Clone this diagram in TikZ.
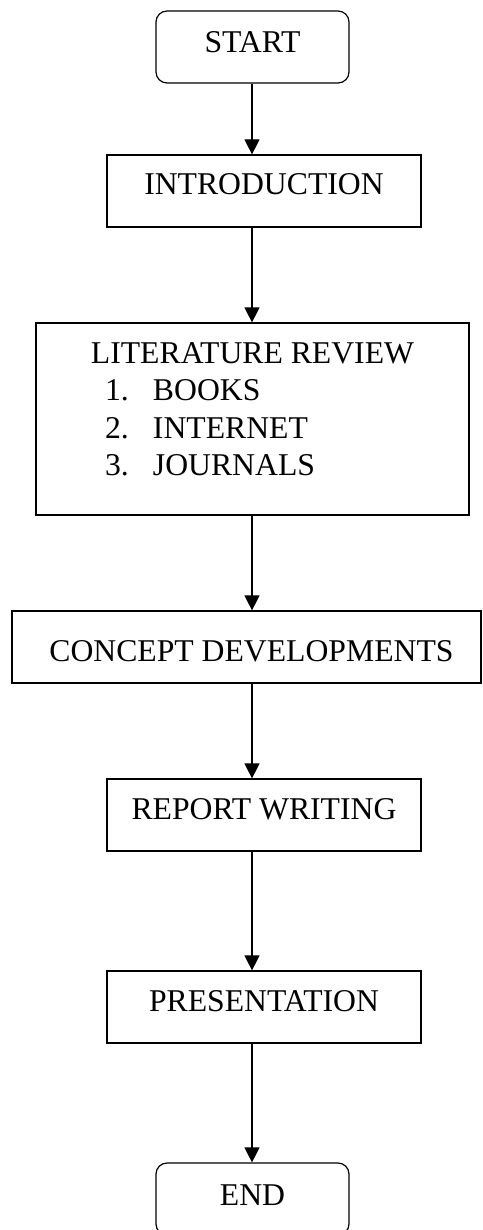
\documentclass[tikz,border=0pt]{standalone}
\usepackage{fontspec}
\setmainfont{Liberation Serif}
\usetikzlibrary{arrows.meta}
\newcommand{\fsz}{\fontsize{31.7}{37.3}\selectfont}
\tikzset{
  base/.style={draw, line width=1.2pt, inner sep=0pt, font=\fsz, rectangle},
  sqbox/.style={base, text height=21pt, text depth=13pt},
  rbox/.style={base, rounded corners=11pt, text height=21pt, text depth=9pt},
  arr/.style={line width=1.2pt, -{Triangle[width=15pt,length=15pt]}}
}
\begin{document}
\begin{tikzpicture}[x=1pt, y=-1pt]
\useasboundingbox (0,0) rectangle (482,1230);
\coordinate (axis) at (252,0);
\node[rbox, minimum width=193pt, minimum height=72pt] (start) at (252.5,47) {START};
\node[sqbox, minimum width=314pt, minimum height=72pt] (intro) at (264,191) {INTRODUCTION};
\node[base, minimum width=433pt, minimum height=192pt] (lit) at (252.5,419) {%
  \begin{minipage}[t]{433pt}\centering LITERATURE REVIEW\par
  \raggedright\leftskip=69pt\relax
  \makebox[48pt][l]{1.}BOOKS\par
  \makebox[48pt][l]{2.}INTERNET\par
  \makebox[48pt][l]{3.}JOURNALS\rule[-20pt]{0pt}{20pt}\end{minipage}};
\node[base, text height=28pt, text depth=0pt, minimum width=469pt, minimum height=72pt] (concept) at (246.5,647) {\hspace*{10pt}CONCEPT DEVELOPMENTS};
\node[sqbox, minimum width=314pt, minimum height=72pt] (report) at (264,815) {REPORT WRITING};
\node[sqbox, minimum width=314pt, minimum height=72pt] (present) at (264,1007) {PRESENTATION};
\node[rbox, minimum width=193pt, minimum height=72pt] (end) at (252.5,1199) {END};
\draw[arr] (axis |- start.south) -- (axis |- intro.north);
\draw[arr] (axis |- intro.south) -- (axis |- lit.north);
\draw[arr] (axis |- lit.south) -- (axis |- concept.north);
\draw[arr] (axis |- concept.south) -- (axis |- report.north);
\draw[arr] (axis |- report.south) -- (axis |- present.north);
\draw[arr] (axis |- present.south) -- (axis |- end.north);
\end{tikzpicture}
\end{document}
